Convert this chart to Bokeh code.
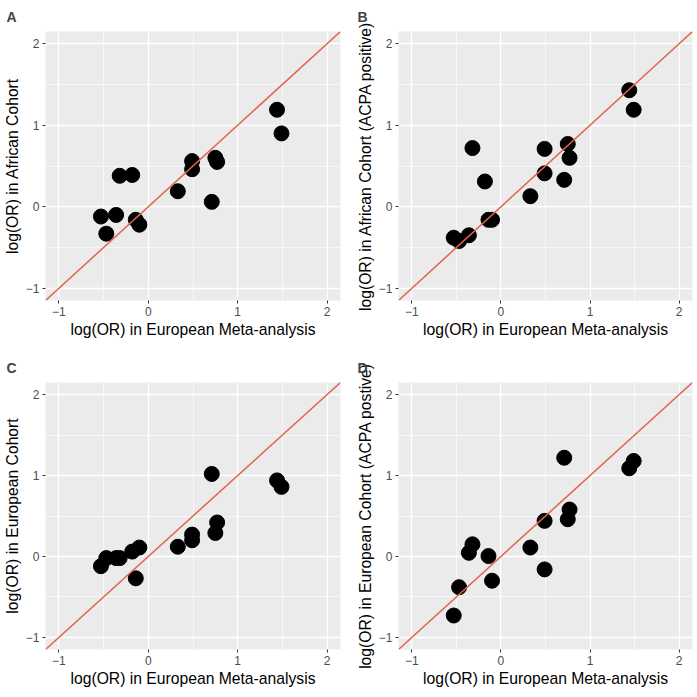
from bokeh.plotting import figure
from bokeh.layouts import column, row
from bokeh.models import Range1d, FixedTicker, Slope
from bokeh.embed import file_html
from bokeh.resources import INLINE

nan = float("nan")

# European meta-analysis log(OR) (shared x values)
x_meta = [1.44, 1.49, 0.49, 0.49, 0.75, 0.77, 0.71, 0.33, -0.32, -0.18, -0.53, -0.36, -0.47, -0.14, -0.10]
y_african = [1.19, 0.90, 0.56, 0.46, 0.60, 0.55, 0.06, 0.19, 0.38, 0.39, -0.12, -0.10, -0.33, -0.16, -0.22]
y_african_acpa = [1.43, 1.19, 0.71, 0.41, 0.77, 0.60, 0.33, 0.13, 0.72, 0.31, -0.38, -0.35, -0.42, -0.16, -0.16]
y_european = [0.94, 0.86, 0.27, 0.20, 0.29, 0.42, 1.02, 0.12, -0.02, 0.06, -0.12, -0.02, -0.02, -0.27, 0.11]
y_european_acpa = [1.09, 1.18, 0.44, -0.16, 0.46, 0.58, 1.22, 0.11, 0.15, nan, -0.73, 0.045, -0.38, 0.005, -0.30]

major_ticks = [-1, 0, 1, 2]
minor_ticks = [-0.5, 0.5, 1.5]
axis_limits = (-1.15, 2.15)

x_title = "log(OR) in European Meta-analysis"
panels = [
    ("A", "log(OR) in African Cohort", y_african),
    ("B", "log(OR) in African Cohort (ACPA positive)", y_african_acpa),
    ("C", "log(OR) in European Cohort", y_european),
    ("D", "log(OR) in European Cohort (ACPA postive)", y_european_acpa),
]

FONT = "Liberation Sans"


def make_panel(letter, ytitle, yvals, fw, fh, bl, br, bt, bb, letter_x):
    p = figure(frame_width=fw, frame_height=fh,
               x_range=Range1d(*axis_limits), y_range=Range1d(*axis_limits),
               output_backend="svg", toolbar_location=None,
               min_border_left=bl, min_border_right=br,
               min_border_top=bt, min_border_bottom=bb,
               background_fill_color="#EBEBEB", border_fill_color="white",
               outline_line_color=None)
    p.title.text = letter
    p.title.text_font = FONT
    p.title.text_font_style = "bold"
    p.title.text_font_size = "14px"
    p.title.align = "left"
    p.title.vertical_align = "top"
    p.title.offset = -bl + letter_x
    for ax in (p.xaxis[0], p.yaxis[0]):
        ax.ticker = FixedTicker(ticks=major_ticks, minor_ticks=minor_ticks)
        ax.axis_line_color = None
        ax.major_tick_line_color = "#333333"
        ax.major_tick_out = 3
        ax.major_tick_in = 0
        ax.minor_tick_line_color = None
        ax.major_label_text_color = "#4D4D4D"
        ax.major_label_text_font = FONT
        ax.major_label_text_font_size = "12px"
        ax.axis_label_text_font = FONT
        ax.axis_label_text_font_size = "15.7px"
        ax.axis_label_text_font_style = "normal"
        ax.axis_label_text_color = "black"
        ax.axis_label_standoff = 2
        ax.major_label_standoff = 2
    p.xaxis.axis_label = x_title
    p.yaxis.axis_label = ytitle
    for g in (p.xgrid[0], p.ygrid[0]):
        g.grid_line_color = "white"
        g.grid_line_width = 1.3
        g.minor_grid_line_color = "white"
        g.minor_grid_line_width = 0.6
    p.add_layout(Slope(gradient=1, y_intercept=0, line_color="#E0644E", line_width=1.5))
    p.scatter(x_meta, yvals, size=15, color="black")
    return p


pa = make_panel(*panels[0], 295, 269, 39, 6, 31, 42, 0)
pb = make_panel(*panels[1], 294, 269, 52, 2, 31, 42, 11)
pc = make_panel(*panels[2], 295, 267, 39, 6, 40, 38, 0)
pd_ = make_panel(*panels[3], 294, 267, 52, 2, 40, 38, 11)

layout = column(row(pa, pb), row(pc, pd_))

open("out.html", "w").write(file_html(layout, INLINE))
